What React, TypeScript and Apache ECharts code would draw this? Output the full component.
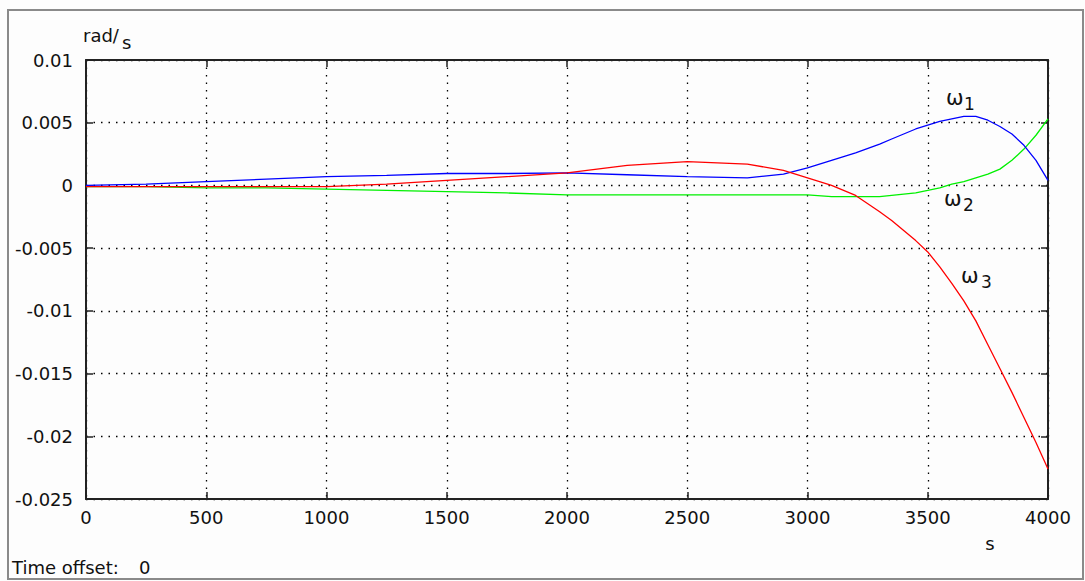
import React, { useEffect, useRef } from "react";
import * as echarts from "echarts";

const times = [0, 250, 500, 750, 1000, 1250, 1500, 1750, 2000, 2250, 2500, 2750, 2900, 3000, 3100, 3200, 3300, 3350, 3400, 3450, 3500, 3550, 3600, 3650, 3700, 3750, 3800, 3850, 3900, 3950, 4000];
const omega1 = [0.0, 0.0001, 0.0003, 0.0005, 0.0007, 0.0008, 0.00095, 0.00095, 0.001, 0.00085, 0.0007, 0.0006, 0.0009, 0.0014, 0.002, 0.0026, 0.0033, 0.0037, 0.0041, 0.0045, 0.0048, 0.0051, 0.0053, 0.0055, 0.0055, 0.0052, 0.0047, 0.0041, 0.0032, 0.002, 0.0004];
const omega2 = [-0.0001, -0.0001, -0.0002, -0.0002, -0.0003, -0.0004, -0.0005, -0.0006, -0.00075, -0.00075, -0.00075, -0.00075, -0.00075, -0.00075, -0.0009, -0.0009, -0.0009, -0.0008, -0.0007, -0.0006, -0.0004, -0.0002, 0.0001, 0.0003, 0.0006, 0.0009, 0.0013, 0.002, 0.0029, 0.004, 0.0053];
const omega3 = [-0.0001, -0.0001, -0.0001, -0.0001, -0.0001, 0.0001, 0.0004, 0.0007, 0.001, 0.0016, 0.0019, 0.0017, 0.0012, 0.0006, 0.0, -0.0008, -0.0021, -0.0028, -0.0036, -0.0044, -0.0053, -0.0065, -0.0078, -0.0092, -0.0108, -0.0127, -0.0146, -0.0165, -0.0185, -0.0205, -0.0226];
const xTicks = { min: 0, max: 4000, interval: 500 };
const yTicks = { min: -0.025, max: 0.01, interval: 0.005 };

const FONT = "DejaVu Sans";

export default function App() {
  const ref = useRef<HTMLDivElement>(null);
  useEffect(() => {
    if (!ref.current) return;
    const chart = echarts.init(ref.current, undefined, { renderer: "svg" });
    const pair = (vals: number[]) => times.map((t, i) => [t, vals[i]]);
    const frameAxisLine = { show: true, onZero: false, lineStyle: { color: "#222", width: 2 } };
    const tick = { show: true, inside: true, length: 7, lineStyle: { color: "#222", width: 1.5 } };
    const grid = { show: true, lineStyle: { color: "#000", width: 1.3, type: [1.5, 6] as any } };
    const txt = (x: number, y: number, text: string, fontSize: number, align = "left") => ({
      type: "text", x, y, style: { text, fontFamily: FONT, fontSize, fill: "#111", align, verticalAlign: "middle" },
    });
    const line = (name: string, vals: number[], color: string, z: number) => ({
      type: "line", name, data: pair(vals), showSymbol: false,
      lineStyle: { color, width: 1.3 }, z,
    });
    chart.setOption({
      animation: false,
      backgroundColor: "#fdfdfd",
      grid: { left: 86, top: 60, width: 962, height: 439, show: false },
      xAxis: [
        {
          type: "value", ...xTicks, position: "bottom",
          axisLine: frameAxisLine, axisTick: tick, splitLine: grid,
          axisLabel: { color: "#111", fontFamily: FONT, fontSize: 18, margin: 9, formatter: (v: number) => String(v) },
        },
        {
          type: "value", ...xTicks, position: "top",
          axisLine: frameAxisLine, axisTick: tick, splitLine: { show: false },
          axisLabel: { show: false },
        },
      ],
      yAxis: [
        {
          type: "value", ...yTicks, position: "left",
          axisLine: frameAxisLine, axisTick: tick, splitLine: grid,
          axisLabel: { color: "#111", fontFamily: FONT, fontSize: 18, margin: 13, formatter: (v: number) => String(Math.round(v * 1000) / 1000) },
        },
        {
          type: "value", ...yTicks, position: "right",
          axisLine: frameAxisLine, axisTick: tick, splitLine: { show: false },
          axisLabel: { show: false },
        },
      ],
      series: [
        line("ω1", omega1, "#0000ff", 3),
        line("ω2", omega2, "#00f000", 2),
        line("ω3", omega3, "#ff0000", 4),
      ],
      graphic: [
        { type: "rect", shape: { x: 8, y: 10, width: 1075, height: 569 }, style: { fill: "none", stroke: "#8a8a8a", lineWidth: 2 }, z: 10 },
        txt(83, 35, "rad/", 18),
        txt(122, 42, "s", 18),
        txt(990, 543, "s", 18, "center"),
        txt(12, 567, "Time offset:", 18),
        txt(139, 567, "0", 18),
        txt(946, 98, "ω", 21),
        txt(964, 104, "1", 17),
        txt(944, 199, "ω", 21),
        txt(963, 205, "2", 17),
        txt(961, 276, "ω", 21),
        txt(981, 282, "3", 17),
      ],
    });
    return () => chart.dispose();
  }, []);
  return <div ref={ref} style={{ position: "fixed", left: 0, top: 0, width: 1085, height: 581 }} />;
}
